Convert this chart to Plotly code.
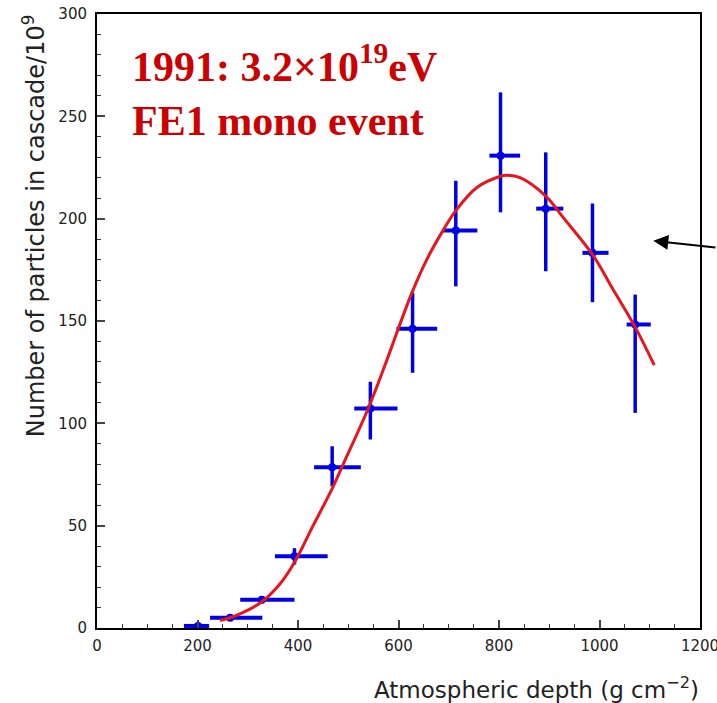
import plotly.graph_objects as go

# ---- data ----
depth = [201, 265, 328, 393, 468, 544, 628, 714, 803, 893, 986, 1071]
count = [1.0, 5.0, 13.8, 35.1, 78.5, 107.2, 146.2, 194.2, 230.8, 204.9, 183.3, 148.3]
depth_lo = [173, 225, 285, 354, 432, 512, 596, 688, 781, 874, 966, 1054]
depth_hi = [223, 329, 393, 459, 525, 598, 677, 757, 842, 928, 1018, 1102]
count_lo = [0.0, 3.8, 12.0, 31.0, 69.3, 92.1, 124.7, 166.9, 203.1, 174.3, 159.2, 105.1]
count_hi = [1.2, 6.3, 15.6, 39.0, 88.8, 120.3, 163.8, 218.5, 261.7, 232.4, 207.4, 162.9]

fit_depth = [245, 265, 290, 328, 364, 394, 430, 467, 488, 541, 577, 597, 626, 656,
             689, 714, 756, 803, 815, 842, 893, 928, 986, 1028, 1071, 1109]
fit_count = [3.7, 5.0, 7.5, 12.8, 21.5, 32.5, 50, 67.6, 79, 108, 131, 144.5, 163.4, 179.9,
             194.4, 203.9, 215.2, 220.7, 221.2, 220, 211, 200.5, 182.5, 165, 147, 128.4]

x_ticks = [0, 200, 400, 600, 800, 1000, 1200]
y_ticks = [0, 50, 100, 150, 200, 250, 300]

BLUE = "#0000e6"
RED = "#e8161c"
TXT_RED = "#cc0000"
AXFONT = "DejaVu Sans"

err_x_plus = [h - d for h, d in zip(depth_hi, depth)]
err_x_minus = [d - l for d, l in zip(depth, depth_lo)]
err_y_plus = [h - c for h, c in zip(count_hi, count)]
err_y_minus = [c - l for c, l in zip(count, count_lo)]

fig = go.Figure()

fig.add_trace(go.Scatter(
    x=depth, y=count, mode="markers",
    marker=dict(color=BLUE, size=8, symbol="circle"),
    error_x=dict(type="data", symmetric=False, array=err_x_plus, arrayminus=err_x_minus,
                 color=BLUE, thickness=4, width=0),
    error_y=dict(type="data", symmetric=False, array=err_y_plus, arrayminus=err_y_minus,
                 color=BLUE, thickness=3.5, width=0),
    showlegend=False, cliponaxis=False,
))

fig.add_trace(go.Scatter(
    x=fit_depth, y=fit_count, mode="lines",
    line=dict(color=RED, width=3, shape="spline", smoothing=1.0),
    showlegend=False,
))

axis_common = dict(
    showline=True, linecolor="black", linewidth=2, mirror=True,
    ticks="inside", ticklen=8, tickwidth=1.5, tickcolor="#444444",
    showgrid=False, zeroline=False,
    tickfont=dict(family=AXFONT, size=15, color="#222222"),
    ticklabeloverflow="allow",
)

fig.update_xaxes(range=[0, 1200], tickvals=x_ticks, ticktext=[str(v) for v in x_ticks],
                 minor=dict(ticks="inside", ticklen=4, dtick=50, tickcolor="#333333", tickwidth=1.2),
                 ticklabelstandoff=3, **axis_common)
fig.update_yaxes(range=[0, 300], tickvals=y_ticks, ticktext=[str(v) for v in y_ticks],
                 minor=dict(ticks="inside", ticklen=4, dtick=10, tickcolor="#333333", tickwidth=1.2),
                 ticklabelstandoff=5, **axis_common)

fig.update_layout(
    width=717, height=703,
    margin=dict(l=97, r=17, t=14, b=75, autoexpand=False),
    paper_bgcolor="white", plot_bgcolor="white",
    annotations=[
        dict(text="<b>1991: 3.2×10<sup>19</sup>eV<br>FE1 mono event</b>",
             xref="paper", yref="paper", x=0.054, y=0.965, xanchor="left", yanchor="top",
             align="left", showarrow=False,
             font=dict(family="Liberation Serif", size=42, color=TXT_RED)),
        dict(text="Atmospheric depth (g cm<sup>−2</sup>)",
             xref="paper", yref="paper", x=1.002, y=-0.0977, xanchor="right", yanchor="middle",
             showarrow=False, font=dict(family=AXFONT, size=23, color="#222222")),
        dict(text="Number of particles in cascade/10<sup>9</sup>",
             xref="paper", yref="paper", x=-0.1045, y=0.656, xanchor="center", yanchor="middle",
             textangle=-90, showarrow=False, font=dict(family=AXFONT, size=24, color="#222222")),
        dict(text="", x=1107, y=189.2, xref="x", yref="y",
             ax=64, ay=7, axref="pixel", ayref="pixel",
             showarrow=True, arrowhead=2, arrowsize=1.5, arrowwidth=2, arrowcolor="black"),
    ],
)

fig.write_html("out.html")
